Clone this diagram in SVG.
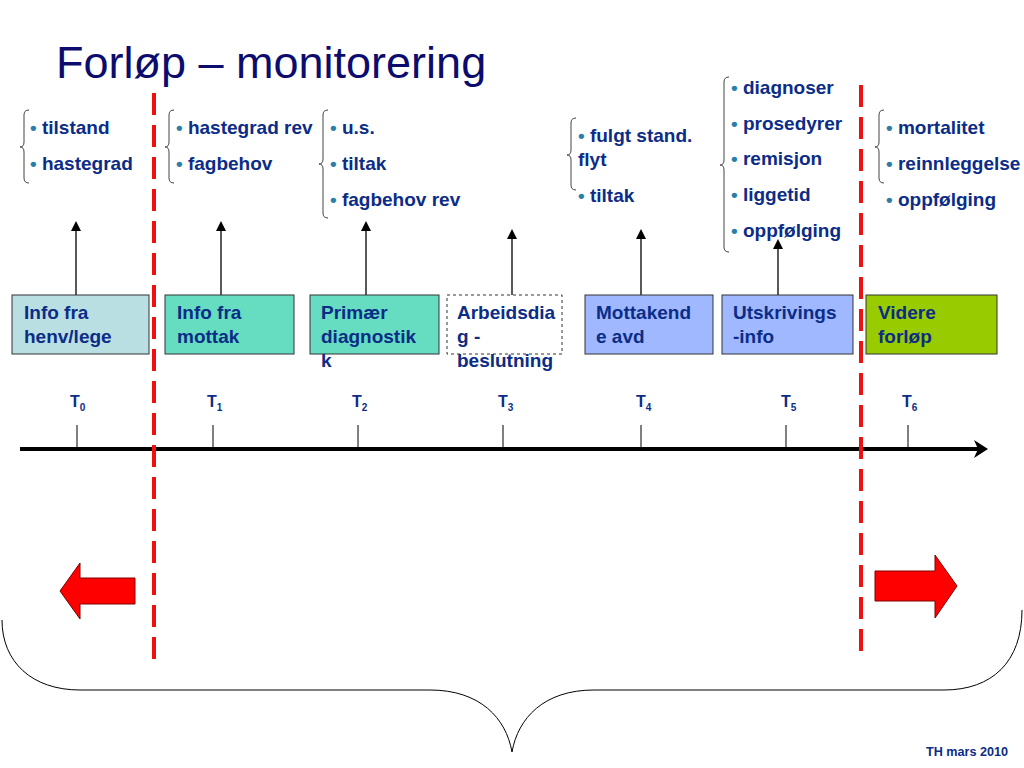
<svg xmlns="http://www.w3.org/2000/svg" width="1024" height="768" viewBox="0 0 1024 768">
<defs>
<marker id="ah" markerWidth="10" markerHeight="10" refX="8" refY="5" orient="auto" markerUnits="userSpaceOnUse" viewBox="0 0 10 10">
<path d="M0,0 L10,5 L0,10 Z" fill="#000"/>
</marker>
<style>
.box{stroke:#333;stroke-width:1}
.bt{font-family:"Liberation Sans",Arial,sans-serif;font-weight:bold;font-size:19px;fill:#0b2c87}
.li{font-family:"Liberation Sans",Arial,sans-serif;font-weight:bold;font-size:19px;fill:#0b2c87}
.bu{fill:#2a7fa8}
.br{fill:none;stroke:#444;stroke-width:1}
.up{stroke:#000;stroke-width:1.3;marker-end:url(#ah)}
.tick{stroke:#000;stroke-width:1}
.tl{font-family:"Liberation Sans",Arial,sans-serif;font-weight:bold;font-size:16px;fill:#0b2c87}
.sub{font-size:10px}
.red{stroke:#ee1111;stroke-width:4;stroke-dasharray:22 10;fill:none}
.ra{fill:#ff0000;stroke:#800000;stroke-width:1}
</style>
</defs>
<rect width="1024" height="768" fill="#fff"/>
<text x="56" y="78" font-family="Liberation Sans,Arial,sans-serif" font-size="45" fill="#0c0c6e">Forløp – monitorering</text>

<g id="connectors">
<line class="up" x1="76" y1="295" x2="76" y2="223"/>
<line class="up" x1="221" y1="295" x2="221" y2="223"/>
<line class="up" x1="366" y1="295" x2="366" y2="223"/>
<line class="up" x1="512" y1="295" x2="512" y2="231"/>
<line class="up" x1="641" y1="295" x2="641" y2="231"/>
<line class="up" x1="778" y1="295" x2="778" y2="241"/>
</g>

<g id="node-t0"><rect class="box" x="12" y="295" width="137" height="59" fill="#b9dfe2"/><text class="bt" x="24" y="319">Info fra</text><text class="bt" x="24" y="343">henv/lege</text></g>
<g id="node-t1"><rect class="box" x="165" y="295" width="129" height="59" fill="#66dcc0"/><text class="bt" x="177" y="319">Info fra</text><text class="bt" x="177" y="343">mottak</text></g>
<g id="node-t2"><rect class="box" x="310" y="295" width="129" height="59" fill="#66dcc0"/><text class="bt" x="321" y="319">Primær</text><text class="bt" x="321" y="343">diagnostik</text><text class="bt" x="321" y="367">k</text></g>
<g id="node-t3"><rect x="447" y="295" width="115" height="59" fill="#fff" stroke="#333" stroke-width="1" stroke-dasharray="3 3"/><text class="bt" x="457" y="319">Arbeidsdia</text><text class="bt" x="457" y="343">g -</text><text class="bt" x="457" y="367">beslutning</text></g>
<g id="node-t4"><rect class="box" x="585" y="295" width="128" height="59" fill="#a0b8ff"/><text class="bt" x="596" y="319">Mottakend</text><text class="bt" x="596" y="343">e avd</text></g>
<g id="node-t5"><rect class="box" x="722" y="295" width="131" height="59" fill="#a0b8ff"/><text class="bt" x="733" y="319">Utskrivings</text><text class="bt" x="733" y="343">-info</text></g>
<g id="node-t6"><rect class="box" x="866" y="295" width="131" height="59" fill="#99cc00"/><text class="bt" x="878" y="319">Videre</text><text class="bt" x="878" y="343">forløp</text></g>

<g id="list1">
<path class="br" d="M29,110 Q24,110 24,115 L24,142 Q24,147 20,147 Q24,147 24,152 L24,178 Q24,183 29,183"/>
<text class="li" x="30" y="134"><tspan class="bu">•</tspan> tilstand</text>
<text class="li" x="30" y="170"><tspan class="bu">•</tspan> hastegrad</text>
</g>
<g id="list2">
<path class="br" d="M174,110 Q169,110 169,115 L169,142 Q169,147 165,147 Q169,147 169,152 L169,178 Q169,183 174,183"/>
<text class="li" x="176" y="134"><tspan class="bu">•</tspan> hastegrad rev</text>
<text class="li" x="176" y="170"><tspan class="bu">•</tspan> fagbehov</text>
</g>
<g id="list3">
<path class="br" d="M328,110 Q323,110 323,115 L323,159 Q323,164 319,164 Q323,164 323,169 L323,213 Q323,218 328,218"/>
<text class="li" x="330" y="134"><tspan class="bu">•</tspan> u.s.</text>
<text class="li" x="330" y="170"><tspan class="bu">•</tspan> tiltak</text>
<text class="li" x="330" y="206"><tspan class="bu">•</tspan> fagbehov rev</text>
</g>
<g id="list4">
<path class="br" d="M576,118 Q571,118 571,123 L571,150 Q571,155 567,155 Q571,155 571,160 L571,185 Q571,190 576,190"/>
<text class="li" x="578" y="142"><tspan class="bu">•</tspan> fulgt stand.</text>
<text class="li" x="578" y="166">flyt</text>
<text class="li" x="578" y="202"><tspan class="bu">•</tspan> tiltak</text>
</g>
<g id="list5">
<path class="br" d="M729,77 Q724,77 724,82 L724,160 Q724,165 720,165 Q724,165 724,170 L724,247 Q724,252 729,252"/>
<text class="li" x="731" y="94"><tspan class="bu">•</tspan> diagnoser</text>
<text class="li" x="731" y="130"><tspan class="bu">•</tspan> prosedyrer</text>
<text class="li" x="731" y="165"><tspan class="bu">•</tspan> remisjon</text>
<text class="li" x="731" y="201"><tspan class="bu">•</tspan> liggetid</text>
<text class="li" x="731" y="237"><tspan class="bu">•</tspan> oppfølging</text>
</g>
<g id="list6">
<path class="br" d="M884,110 Q879,110 879,115 L879,142 Q879,147 875,147 Q879,147 879,152 L879,178 Q879,183 884,183"/>
<text class="li" x="886" y="134"><tspan class="bu">•</tspan> mortalitet</text>
<text class="li" x="886" y="170"><tspan class="bu">•</tspan> reinnleggelse</text>
<text class="li" x="886" y="206"><tspan class="bu">•</tspan> oppfølging</text>
</g>

<g id="timeline">
<line x1="20" y1="449" x2="978" y2="449" stroke="#000" stroke-width="4"/>
<path d="M988,449 L974,440 L978,449 L974,458 Z" fill="#000"/>
<line class="tick" x1="77" y1="425" x2="77" y2="449"/>
<line class="tick" x1="213" y1="425" x2="213" y2="449"/>
<line class="tick" x1="358" y1="425" x2="358" y2="449"/>
<line class="tick" x1="503" y1="425" x2="503" y2="449"/>
<line class="tick" x1="641" y1="425" x2="641" y2="449"/>
<line class="tick" x1="786" y1="425" x2="786" y2="449"/>
<line class="tick" x1="908" y1="425" x2="908" y2="449"/>
<text class="tl" x="70" y="407">T<tspan class="sub" dy="4">0</tspan></text>
<text class="tl" x="207" y="407">T<tspan class="sub" dy="4">1</tspan></text>
<text class="tl" x="352" y="407">T<tspan class="sub" dy="4">2</tspan></text>
<text class="tl" x="498" y="407">T<tspan class="sub" dy="4">3</tspan></text>
<text class="tl" x="636" y="407">T<tspan class="sub" dy="4">4</tspan></text>
<text class="tl" x="781" y="407">T<tspan class="sub" dy="4">5</tspan></text>
<text class="tl" x="902" y="407">T<tspan class="sub" dy="4">6</tspan></text>
</g>

<line class="red" x1="154" y1="93" x2="154" y2="666"/>
<line class="red" x1="861" y1="85" x2="861" y2="659"/>

<path class="ra" d="M135,578 L80,578 L80,563 L60,591 L80,619 L80,604 L135,604 Z"/>
<path class="ra" d="M875,571 L935,571 L935,555 L957,586 L935,618 L935,601 L875,601 Z"/>

<path d="M2,620 C2,662 32,690 80,690 L430,690 C480,690 506,718 512,752 C518,718 544,690 594,690 L944,690 C992,690 1022,662 1022,610" fill="none" stroke="#000" stroke-width="1"/>

<text x="926" y="756" font-family="Liberation Sans,Arial,sans-serif" font-weight="bold" font-size="12" fill="#0b2c87" textLength="82" lengthAdjust="spacingAndGlyphs">TH mars 2010</text>
</svg>
